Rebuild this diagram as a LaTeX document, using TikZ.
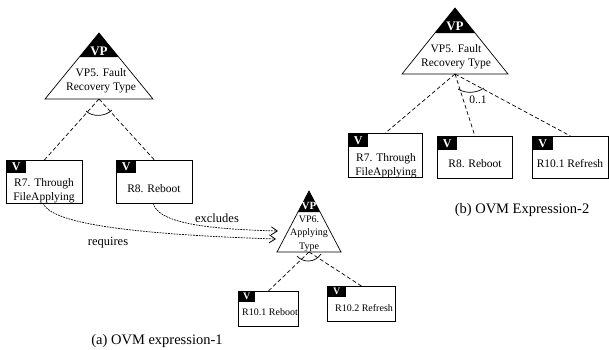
\documentclass[tikz,border=0pt]{standalone}
\usepackage{fontspec}
\setmainfont{Liberation Serif}
\usetikzlibrary{arrows.meta}
\newcommand\fs[1]{\fontsize{#1}{#1}\selectfont}
\begin{document}
\begin{tikzpicture}[x=1pt,y=-1pt,
  tri/.style={draw=black, line width=0.7pt, line join=miter},
  vbox/.style={draw=black, line width=0.8pt, fill=white, rectangle, inner sep=0pt, anchor=north west},
  vtag/.style={fill=black, text=white, inner sep=0pt, anchor=north west, font=\fs{12}\bfseries},
  vtags/.style={vtag, font=\fs{10}\bfseries},
  vplbl/.style={text=white, inner sep=0pt, font=\fs{13}\bfseries},
  lbl/.style={inner sep=0pt, align=center, font=\fontsize{11.5}{13.5}\selectfont},
  lbls/.style={inner sep=0pt, align=center, font=\fontsize{10}{13.5}\selectfont},
  dl/.style={draw=black, line width=0.7pt, dash pattern=on 4pt off 2.5pt},
  dd/.style={draw=black, line width=0.7pt, dash pattern=on 1.8pt off 1pt,
    -{Straight Barb[length=6pt,width=8pt,line width=0.8pt]}},
  arcst/.style={draw=black, line width=0.7pt},
  captxt/.style={inner sep=0pt, font=\fs{14.5}}
]
\useasboundingbox (0,0) rectangle (609,349);

% ---------- (a) left: VP5 triangle
\coordinate (T1a) at (99,33);
\coordinate (T1l) at (45,99);
\coordinate (T1r) at (153,99);
\coordinate (T1b) at (99,99);
\draw[tri] (T1a) -- (T1l) -- (T1r) -- cycle;
\fill[black] (T1a) -- (79.4,57) -- (118.6,57) -- cycle;
\node[vplbl] (T1vp) at (99,51) {VP};
\node[lbl] (T1t) at (101,80.5) {VP5. Fault\\Recovery Type};

% boxes
\node[vbox, minimum width=76pt, minimum height=43pt] (L7) at (6,160) {};
\node[vtag, minimum width=20pt, minimum height=13pt] (L7v) at (L7.north west) {V};
\node[lbl] (L7t) at (44,190.5) {R7. Through\\FileApplying};
\node[vbox, minimum width=76pt, minimum height=43pt] (L8) at (116,160) {};
\node[vtag, minimum width=20pt, minimum height=13pt] (L8v) at (L8.north west) {V};
\node[lbl] (L8t) at (154,189) {R8. Reboot};

\draw[dl] (T1b) -- (L7.north);
\draw[dl] (T1b) -- (L8.north);
\draw[arcst] (86,111) .. controls (92,117) and (105,117) .. (112,110);

% VP6 triangle
\coordinate (T2a) at (309,191);
\coordinate (T2l) at (277,252);
\coordinate (T2r) at (341,252);
\coordinate (T2b) at (309,252);
\draw[tri] (T2a) -- (T2l) -- (T2r) -- cycle;
\fill[black] (T2a) -- (298,212) -- (320,212) -- cycle;
\node[vplbl, font=\fs{11}\bfseries] (T2vp) at (309,206) {VP};
\node[lbls] (T2t) at (309,233.5) {VP6.\\Applying\\Type};

\node[vbox, minimum width=60pt, minimum height=35pt] (L101) at (238,291) {};
\node[vtags, minimum width=17pt, minimum height=11pt] (L101v) at (L101.north west) {V};
\node[lbls] (L101t) at (270,312) {R10.1 Reboot};
\node[vbox, minimum width=68pt, minimum height=35pt] (L102) at (327,286) {};
\node[vtags, minimum width=19pt, minimum height=11pt] (L102v) at (L102.north west) {V};
\node[lbls] (L102t) at (364,308) {R10.2 Refresh};

\draw[dl] (T2b) -- (L101.north);
\draw[dl] (T2b) -- (L102.north);
\draw[arcst] (297,256) .. controls (303,263) and (315,263) .. (321,254);

% dependencies
\coordinate (exE) at (278,231);
\coordinate (rqE) at (276,239);
\coordinate (exS) at (153,203);
\coordinate (rqS) at (43,203);
\draw[dd] (exS) .. controls (158,222) and (200,229) .. (exE);
\draw[dd] (rqS) .. controls (50,222) and (120,234) .. (rqE);
\node[inner sep=0pt, font=\fs{12.5}] (exl) at (217,218) {excludes};
\node[inner sep=0pt, font=\fs{12.5}] (rql) at (108,243) {requires};

\node[captxt] (capa) at (157,341) {(a) OVM expression-1};

% ---------- (b) right
\coordinate (T3a) at (455,8);
\coordinate (T3l) at (402,74);
\coordinate (T3r) at (508,74);
\coordinate (T3b) at (455,74);
\draw[tri] (T3a) -- (T3l) -- (T3r) -- cycle;
\fill[black] (T3a) -- (434.9,33) -- (475.1,33) -- cycle;
\node[vplbl] (T3vp) at (455,26) {VP};
\node[lbl] (T3t) at (456,56.5) {VP5. Fault\\Recovery Type};

\node[vbox, minimum width=74pt, minimum height=44pt] (R7) at (348,133) {};
\node[vtag, minimum width=20pt, minimum height=14pt] (R7v) at (R7.north west) {V};
\node[lbl] (R7t) at (386,165.5) {R7. Through\\FileApplying};
\node[vbox, minimum width=75pt, minimum height=42pt] (R8) at (437,136) {};
\node[vtag, minimum width=20pt, minimum height=14pt] (R8v) at (R8.north west) {V};
\node[lbl] (R8t) at (475,164) {R8. Reboot};
\node[vbox, minimum width=76pt, minimum height=42pt] (R10) at (532,136) {};
\node[vtag, minimum width=21pt, minimum height=14pt] (R10v) at (R10.north west) {V};
\node[lbl] (R10t) at (570,164) {R10.1 Refresh};

\draw[dl] (T3b) -- (R7.north);
\draw[dl] (T3b) -- (R8.north);
\draw[dl] (T3b) -- (R10.north);
\draw[arcst] (458,89) .. controls (466,94) and (477,93) .. (484,88);
\node[inner sep=0pt, font=\fs{11.5}] (card) at (478,100) {0..1};

\node[captxt] (capb) at (522,210) {(b) OVM Expression-2};
\end{tikzpicture}
\end{document}
